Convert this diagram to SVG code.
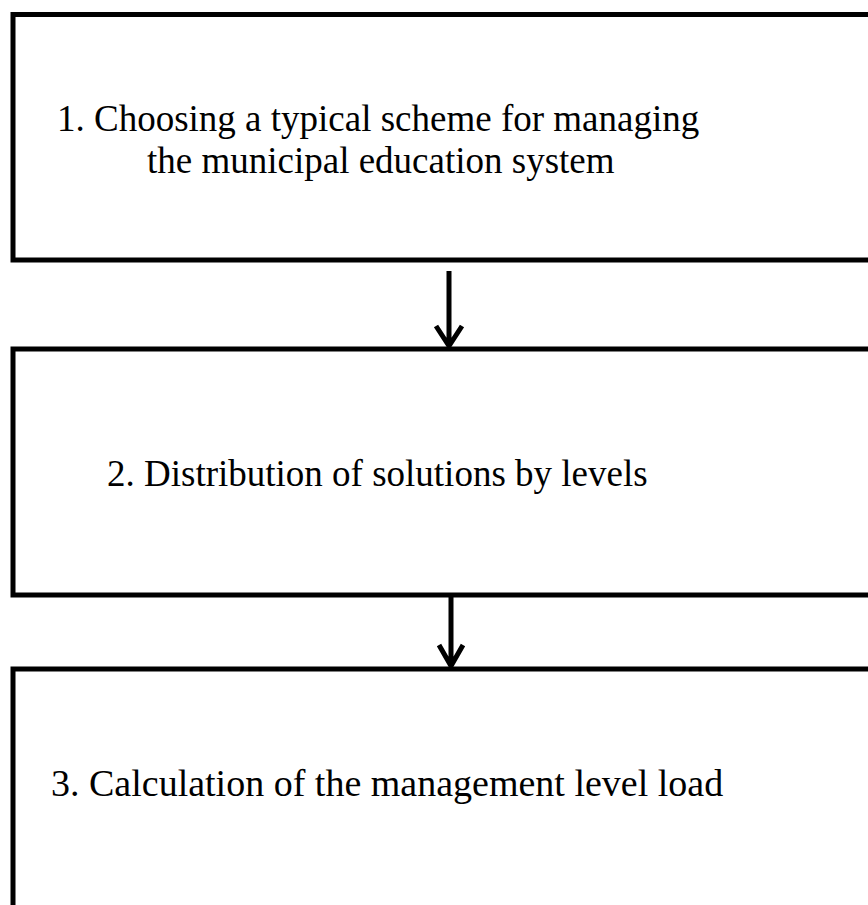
<svg xmlns="http://www.w3.org/2000/svg" width="868" height="905" viewBox="0 0 868 905">
<style>
.box{fill:#fff;stroke:#000;stroke-width:5}
.t{font-family:"Liberation Serif","Times New Roman",serif;font-size:37px;fill:#000}
.c{stroke:#000;stroke-width:5;fill:none}
</style>
<rect width="868" height="905" fill="#fff"/>
<g id="node1"><rect class="box" x="13" y="14.5" width="900" height="245.5"/>
<text class="t" x="57" y="131">1. Choosing a typical scheme for managing</text>
<text class="t" x="147" y="173">the municipal education system</text></g>
<g id="node2"><rect class="box" x="13" y="349" width="900" height="246"/>
<text class="t" x="107" y="486">2. Distribution of solutions by levels</text></g>
<g id="node3"><rect class="box" x="13" y="669" width="900" height="300"/>
<text class="t" x="51" y="796" style="font-size:38px">3. Calculation of the management level load</text></g>
<g id="connectors">
<path class="c" d="M449 271V346M436 326L449 346L462 326"/>
<path class="c" d="M451 595V666M439 645L451 666L463 645"/>
</g>
</svg>
